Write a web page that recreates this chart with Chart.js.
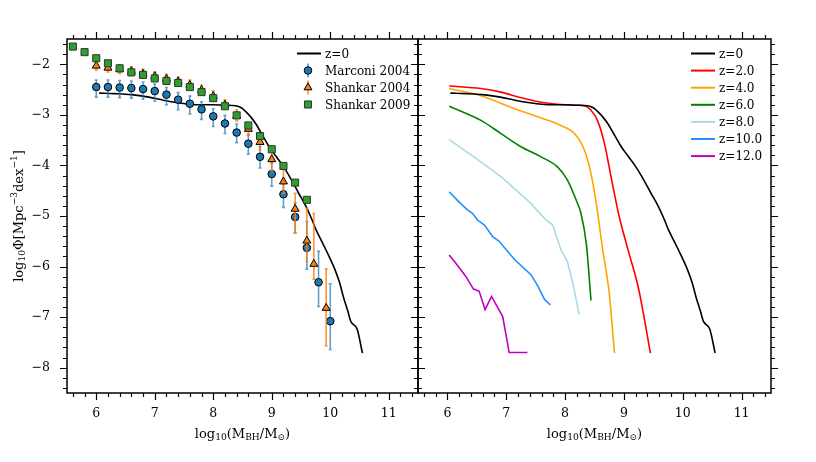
<!DOCTYPE html>
<html>
<head>
<meta charset="utf-8">
<script src="https://cdn.jsdelivr.net/npm/chart.js@4.4.1/dist/chart.umd.min.js"></script>
<style>
  html, body { margin: 0; padding: 0; background: #fff; }
  #wrap { position: relative; width: 816px; height: 462px; overflow: hidden; }
  canvas { position: absolute; top: 0; }
</style>
</head>
<body>
<div id="wrap">
  <canvas id="left" width="430" height="462" style="left:0;width:430px;height:462px"></canvas>
  <canvas id="right" width="408" height="462" style="left:408px;width:408px;height:462px"></canvas>
</div>
<script>
const FONT = '"DejaVu Serif", "Liberation Serif", serif';

// axis ticks
const xTicks = [6, 7, 8, 9, 10, 11];
const yTicks = [-8, -7, -6, -5, -4, -3, -2];

// z=0 model (both panels)
const z0Mass = [6.05, 6.3, 6.6, 6.9, 7.15, 7.4, 7.6, 7.8, 8.0, 8.2, 8.38, 8.48, 8.56, 8.64, 8.73, 8.84, 8.95, 9.06, 9.18, 9.3, 9.46, 9.58, 9.69, 9.76, 9.88, 9.98, 10.09, 10.16, 10.23, 10.3, 10.35, 10.46, 10.55];
const z0Phi  = [-2.57, -2.58, -2.60, -2.65, -2.71, -2.76, -2.79, -2.80, -2.80, -2.81, -2.82, -2.86, -2.94, -3.04, -3.18, -3.40, -3.62, -3.80, -3.99, -4.21, -4.55, -4.80, -5.08, -5.28, -5.56, -5.80, -6.09, -6.32, -6.62, -6.88, -7.08, -7.24, -7.71];

// observations
const marconiMass = [6.0, 6.2, 6.4, 6.6, 6.8, 7.0, 7.2, 7.4, 7.6, 7.8, 8.0, 8.2, 8.4, 8.6, 8.8, 9.0, 9.2, 9.4, 9.6, 9.8, 10.0];
const marconiPhi  = [-2.45, -2.45, -2.46, -2.47, -2.49, -2.53, -2.60, -2.70, -2.78, -2.89, -3.03, -3.17, -3.35, -3.57, -3.83, -4.17, -4.57, -5.02, -5.63, -6.31, -7.08];
const marconiErrHi = [0.14, 0.14, 0.14, 0.14, 0.14, 0.14, 0.14, 0.14, 0.15, 0.15, 0.15, 0.16, 0.17, 0.18, 0.20, 0.22, 0.25, 0.28, 0.52, 0.61, 0.74];
const marconiErrLo = [0.20, 0.20, 0.20, 0.20, 0.20, 0.20, 0.20, 0.20, 0.20, 0.20, 0.20, 0.20, 0.20, 0.21, 0.22, 0.24, 0.26, 0.31, 0.42, 0.48, 0.56];

const shankar04Mass = [6.0, 6.2, 6.4, 6.6, 6.8, 7.0, 7.2, 7.4, 7.6, 7.8, 8.0, 8.2, 8.4, 8.6, 8.8, 9.0, 9.2, 9.4, 9.6, 9.72, 9.93];
const shankar04Phi  = [-2.03, -2.07, -2.10, -2.14, -2.19, -2.24, -2.29, -2.34, -2.41, -2.51, -2.63, -2.80, -3.02, -3.28, -3.54, -3.88, -4.32, -4.86, -5.49, -5.95, -6.82];
const shankar04ErrHi = [0.09, 0.09, 0.09, 0.09, 0.09, 0.09, 0.09, 0.09, 0.10, 0.10, 0.10, 0.10, 0.12, 0.13, 0.15, 0.20, 0.26, 0.31, 0.64, 1.00, 0.77];
const shankar04ErrLo = [0.08, 0.08, 0.08, 0.08, 0.08, 0.08, 0.08, 0.08, 0.08, 0.08, 0.08, 0.08, 0.10, 0.12, 0.15, 0.23, 0.23, 0.48, 0.41, 0.30, 0.75];

const shankar09Mass = [5.6, 5.8, 6.0, 6.2, 6.4, 6.6, 6.8, 7.0, 7.2, 7.4, 7.6, 7.8, 8.0, 8.2, 8.4, 8.6, 8.8, 9.0, 9.2, 9.4, 9.6];
const shankar09Phi  = [-1.65, -1.76, -1.88, -1.98, -2.08, -2.16, -2.21, -2.28, -2.33, -2.37, -2.45, -2.55, -2.67, -2.83, -3.01, -3.21, -3.42, -3.68, -4.01, -4.34, -4.68];

// higher redshift models
const z2Mass = [6.03, 6.57, 6.91, 7.25, 7.59, 7.87, 8.21, 8.33, 8.44, 8.55, 8.67, 8.78, 8.92, 9.07, 9.24, 9.35, 9.45];
const z2Phi  = [-2.43, -2.48, -2.55, -2.66, -2.75, -2.79, -2.81, -2.82, -2.91, -3.11, -3.57, -4.22, -5.01, -5.67, -6.39, -7.05, -7.71];
const z4Mass = [6.03, 6.57, 7.14, 7.59, 7.93, 8.16, 8.33, 8.44, 8.53, 8.64, 8.75, 8.84];
const z4Phi  = [-2.48, -2.62, -2.88, -3.06, -3.21, -3.37, -3.70, -4.16, -4.75, -5.67, -6.52, -7.71];
const z6Mass = [6.03, 6.57, 6.91, 7.25, 7.59, 7.87, 8.04, 8.19, 8.27, 8.36, 8.40, 8.44];
const z6Phi  = [-2.83, -3.11, -3.37, -3.63, -3.83, -4.03, -4.29, -4.69, -4.95, -5.54, -6.06, -6.67];
const z8Mass = [6.03, 6.45, 6.91, 7.42, 7.54, 7.68, 7.79, 7.93, 8.04, 8.13, 8.24];
const z8Phi  = [-3.49, -3.83, -4.22, -4.75, -4.91, -5.08, -5.18, -5.67, -5.90, -6.32, -6.95];
const z10Mass = [6.03, 6.17, 6.34, 6.43, 6.51, 6.63, 6.77, 6.88, 7.14, 7.42, 7.54, 7.65, 7.75];
const z10Phi  = [-4.52, -4.69, -4.88, -4.95, -5.08, -5.18, -5.41, -5.50, -5.86, -6.16, -6.39, -6.65, -6.76];
const z12Mass = [6.03, 6.14, 6.31, 6.44, 6.54, 6.64, 6.75, 6.94, 7.05, 7.36];
const z12Phi  = [-5.77, -5.93, -6.19, -6.44, -6.49, -6.85, -6.59, -6.99, -7.70, -7.70];

function pts(xs, ys) { return xs.map((x, i) => ({x: x, y: ys[i]})); }
function fmt(v) { return v < 0 ? '\u2212' + Math.abs(v) : String(v); }

function line(label, xs, ys, color, smooth) {
  return {
    label: label, data: pts(xs, ys), showLine: true, borderColor: color, backgroundColor: color,
    borderWidth: 1.6, pointRadius: 0, cubicInterpolationMode: smooth ? 'monotone' : 'default', order: 10
  };
}

function scales(showY) {
  return {
    x: {
      type: 'linear', min: 5.5, max: 11.5,
      afterBuildTicks: s => { s.ticks = xTicks.map(v => ({value: v})); },
      afterFit: s => { s.height = 69; },
      grid: {display: false, drawTicks: false},
      border: {display: false},
      ticks: {font: {family: FONT, size: 12.5}, color: '#000', padding: 13, maxRotation: 0, callback: fmt}
    },
    y: {
      type: 'linear', min: -8.5, max: -1.5, display: showY,
      afterBuildTicks: s => { s.ticks = yTicks.map(v => ({value: v})); },
      afterFit: s => { s.width = showY ? 67 : 0; },
      grid: {display: false, drawTicks: false},
      border: {display: false},
      ticks: {font: {family: FONT, size: 12.5}, color: '#000', padding: 17, callback: fmt}
    }
  };
}

// frame with outward major/minor ticks on all four sides
const frame = {
  id: 'frame',
  afterDatasetsDraw(chart) {
    const ctx = chart.ctx, a = chart.chartArea, x = chart.scales.x, y = chart.scales.y;
    ctx.save();
    ctx.strokeStyle = '#000';
    ctx.lineWidth = 1.2;
    ctx.beginPath();
    for (let k = 28; k <= 57; k++) {
      const v = k / 5, len = k % 5 === 0 ? 7 : 4, px = Math.round(x.getPixelForValue(v)) + 0.5;
      ctx.moveTo(px, a.bottom); ctx.lineTo(px, a.bottom + len);
      ctx.moveTo(px, a.top); ctx.lineTo(px, a.top - len);
    }
    for (let k = -42; k <= -8; k++) {
      const v = k / 5, len = k % 5 === 0 ? 7 : 4, py = Math.round(y.getPixelForValue(v)) + 0.5;
      ctx.moveTo(a.left, py); ctx.lineTo(a.left - len, py);
      ctx.moveTo(a.right, py); ctx.lineTo(a.right + len, py);
    }
    ctx.stroke();
    ctx.lineWidth = 1.5;
    ctx.strokeRect(a.left, a.top, a.right - a.left, a.bottom - a.top);
    ctx.restore();
  }
};

// vertical error bars drawn just under their own markers
const errorBars = {
  id: 'errorBars',
  beforeDatasetDraw(chart, args) {
    const ds = chart.data.datasets[args.index];
    if (!ds.errHi) return;
    const ctx = chart.ctx, x = chart.scales.x, y = chart.scales.y;
    ctx.save();
    ctx.strokeStyle = ds.errColor;
    ctx.lineWidth = 1.6;
    ctx.beginPath();
    ds.data.forEach((p, i) => {
      const px = x.getPixelForValue(p.x);
      const top = y.getPixelForValue(p.y + ds.errHi[i]);
      const bot = y.getPixelForValue(p.y - ds.errLo[i]);
      ctx.moveTo(px, top); ctx.lineTo(px, bot);
      ctx.moveTo(px - 1.5, top); ctx.lineTo(px + 1.5, top);
      ctx.moveTo(px - 1.5, bot); ctx.lineTo(px + 1.5, bot);
    });
    ctx.stroke();
    ctx.restore();
  }
};

function fontFor(kind, size) {
  return (kind ? size * 0.7 : size) + 'px ' + FONT;
}
function drawRich(ctx, parts, cx, cy, size, angle) {
  ctx.save();
  ctx.translate(cx, cy);
  ctx.rotate(angle);
  const widths = parts.map(p => { ctx.font = fontFor(p[1], size); return ctx.measureText(p[0]).width; });
  let px = -widths.reduce((s, w) => s + w, 0) / 2;
  ctx.textBaseline = 'alphabetic';
  ctx.textAlign = 'left';
  ctx.fillStyle = '#000';
  parts.forEach((p, i) => {
    ctx.font = fontFor(p[1], size);
    const dy = p[1] === 'sub' ? size * 0.22 : p[1] === 'sup' ? -size * 0.42 : 0;
    ctx.fillText(p[0], px, size * 0.35 + dy);
    px += widths[i];
  });
  ctx.restore();
}

const xTitle = [['log', ''], ['10', 'sub'], ['(M', ''], ['BH', 'sub'], ['/M', ''], ['\u2299', 'sub'], [')', '']];
const yTitle = [['log', ''], ['10', 'sub'], ['\u03a6[Mpc', ''], ['\u22123', 'sup'], ['dex', ''], ['\u22121', 'sup'], [']', '']];

function titles(withY) {
  return {
    id: 'titles',
    afterDraw(chart) {
      const a = chart.chartArea;
      drawRich(chart.ctx, xTitle, (a.left + a.right) / 2, a.bottom + 40, 13, 0);
      if (withY) drawRich(chart.ctx, yTitle, 18, (a.top + a.bottom) / 2, 13, -Math.PI / 2);
    }
  };
}

function marker(ctx, style, x, y, r, fill, stroke) {
  ctx.beginPath();
  if (style === 'circle') {
    ctx.arc(x, y, r, 0, Math.PI * 2);
  } else if (style === 'rect') {
    const h = r * Math.SQRT1_2;
    ctx.rect(x - h, y - h, 2 * h, 2 * h);
  } else {
    let rad = 0;
    ctx.moveTo(x + Math.sin(rad) * r, y - Math.cos(rad) * r);
    rad += Math.PI * 2 / 3;
    ctx.lineTo(x + Math.sin(rad) * r, y - Math.cos(rad) * r);
    rad += Math.PI * 2 / 3;
    ctx.lineTo(x + Math.sin(rad) * r, y - Math.cos(rad) * r);
    ctx.closePath();
  }
  ctx.fillStyle = fill; ctx.fill();
  ctx.strokeStyle = stroke; ctx.lineWidth = 1; ctx.stroke();
}

// legend drawn inside the axes, upper right
function legend(offset, step) {
  return {
    id: 'boxLegend',
    afterDraw(chart) {
      const ctx = chart.ctx, a = chart.chartArea;
      const x0 = a.right - offset;
      ctx.save();
      ctx.font = '12px ' + FONT;
      ctx.textBaseline = 'middle';
      ctx.fillStyle = '#000';
      chart.data.datasets.forEach((ds, i) => {
        const yy = a.top + 14.5 + i * step;
        if (ds.showLine) {
          ctx.strokeStyle = ds.borderColor; ctx.lineWidth = 2;
          ctx.beginPath(); ctx.moveTo(x0, yy); ctx.lineTo(x0 + 24, yy); ctx.stroke();
        } else {
          const cx = x0 + 11;
          if (ds.errHi) {
            ctx.strokeStyle = ds.errColor; ctx.lineWidth = 1.6;
            ctx.beginPath(); ctx.moveTo(cx, yy - 7); ctx.lineTo(cx, yy + 7); ctx.stroke();
          }
          marker(ctx, ds.pointStyle, cx, yy, ds.pointRadius, ds.backgroundColor, ds.borderColor);
        }
        ctx.fillStyle = '#000';
        ctx.fillText(ds.label, x0 + 28, yy + 1);
      });
      ctx.restore();
    }
  };
}

Chart.defaults.font.family = FONT;
Chart.defaults.color = '#000';

new Chart(document.getElementById('left'), {
  type: 'scatter',
  data: {
    datasets: [
      line('z=0', z0Mass, z0Phi, '#000', true),
      {
        label: 'Marconi 2004', data: pts(marconiMass, marconiPhi), pointStyle: 'circle', pointRadius: 3.8,
        backgroundColor: '#1f77b4', borderColor: '#000', borderWidth: 1, order: 3,
        errHi: marconiErrHi, errLo: marconiErrLo, errColor: 'rgba(31,119,180,0.7)'
      },
      {
        label: 'Shankar 2004', data: pts(shankar04Mass, shankar04Phi), pointStyle: 'triangle', pointRadius: 4.6,
        backgroundColor: '#ff7f0e', borderColor: '#000', borderWidth: 1, order: 2,
        errHi: shankar04ErrHi, errLo: shankar04ErrLo, errColor: 'rgba(255,127,14,0.85)'
      },
      {
        label: 'Shankar 2009', data: pts(shankar09Mass, shankar09Phi), pointStyle: 'rect', pointRadius: 5,
        backgroundColor: '#2ca02c', borderColor: '#333', borderWidth: 1, order: 1
      }
    ]
  },
  options: {
    responsive: false, devicePixelRatio: 1, animation: false, events: [],
    layout: {padding: {top: 39, right: 12, left: 0, bottom: 0}},
    scales: scales(true),
    plugins: {legend: {display: false}, tooltip: {enabled: false}}
  },
  plugins: [errorBars, frame, titles(true), legend(121, 17)]
});

new Chart(document.getElementById('right'), {
  type: 'scatter',
  data: {
    datasets: [
      line('z=0', z0Mass, z0Phi, '#000', true),
      line('z=2.0', z2Mass, z2Phi, '#ff0000', true),
      line('z=4.0', z4Mass, z4Phi, '#ffa500', true),
      line('z=6.0', z6Mass, z6Phi, '#008000', true),
      line('z=8.0', z8Mass, z8Phi, '#add8e6', false),
      line('z=10.0', z10Mass, z10Phi, '#1e90ff', false),
      line('z=12.0', z12Mass, z12Phi, '#bf00bf', false)
    ]
  },
  options: {
    responsive: false, devicePixelRatio: 1, animation: false, events: [],
    layout: {padding: {top: 39, right: 45, left: 10, bottom: 0}},
    scales: scales(false),
    plugins: {legend: {display: false}, tooltip: {enabled: false}}
  },
  plugins: [frame, titles(false), legend(80, 17.1)]
});
</script>
</body>
</html>
